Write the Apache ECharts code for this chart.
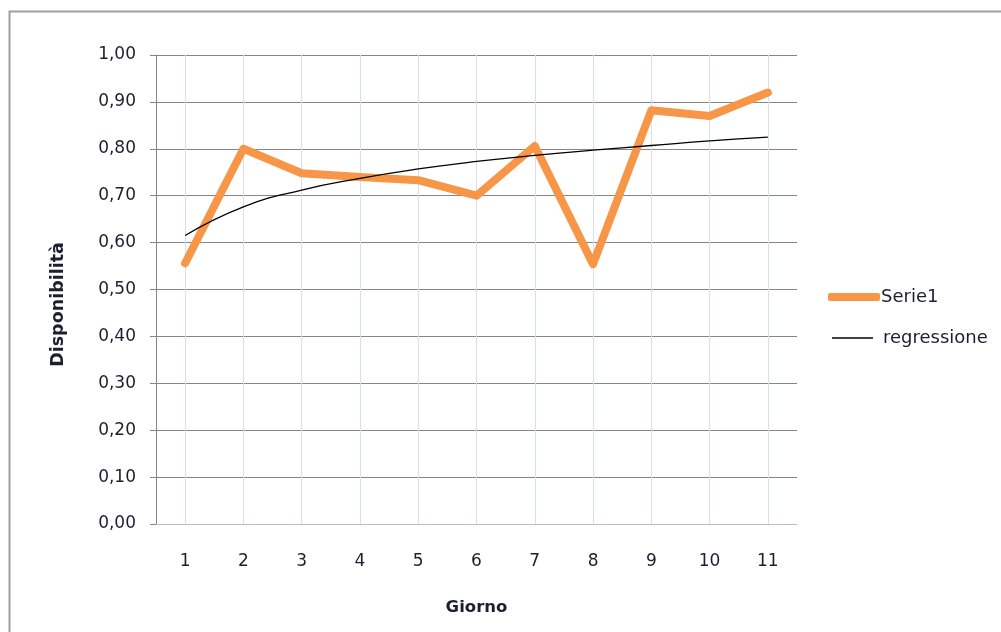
<!DOCTYPE html>
<html><head><meta charset="utf-8">
<script src="https://cdn.jsdelivr.net/npm/echarts@6/dist/echarts.min.js"></script>
<style>html,body{margin:0;padding:0;background:#fff}#c{width:1001px;height:632px}</style>
</head><body><div id="c"></div>
<script>
const categories = ['1','2','3','4','5','6','7','8','9','10','11'];
const serie1 = [0.556, 0.800, 0.748, 0.740, 0.733, 0.700, 0.806, 0.554, 0.882, 0.870, 0.920];
const regressione = [0.615, 0.676, 0.712, 0.737, 0.757, 0.773, 0.786, 0.797, 0.807, 0.817, 0.825];
const yTicks = [0, 0.1, 0.2, 0.3, 0.4, 0.5, 0.6, 0.7, 0.8, 0.9, 1.0];

const FONT = '"DejaVu Sans", sans-serif';
const TXT = '#1e1e30';
const chart = echarts.init(document.getElementById('c'), null, {renderer:'canvas'});
chart.setOption({
  backgroundColor: '#fff',
  animation: false,
  graphic: [{type:'rect', shape:{x:9.5, y:11.5, width:1100, height:700}, style:{fill:'none', stroke:'#a0a0a0', lineWidth:2}, silent:true, z:-10}],
  grid: {left:156, right:204, top:55, bottom:108, containLabel:false},
  legend: [
    {data:[{name:'Serie1', icon:'roundRect'}], left:823, top:283, orient:'vertical', itemWidth:52, itemHeight:8,
     textStyle:{fontFamily:FONT, fontSize:18, color:TXT, padding:[0,0,0,-4]}},
    {data:[{name:'regressione', icon:'rect'}], left:827, top:324, orient:'vertical', itemWidth:41, itemHeight:1.5,
     textStyle:{fontFamily:FONT, fontSize:18, color:TXT, padding:[0,0,0,5]}}
  ],
  xAxis: {
    type:'category', data:categories, boundaryGap:true,
    name:'Giorno', nameLocation:'middle', nameGap:75,
    nameTextStyle:{fontFamily:FONT, fontSize:16.5, fontWeight:'bold', color:TXT},
    axisLine:{show:true, lineStyle:{color:'#bdbdbd', width:1}},
    axisTick:{show:false},
    axisLabel:{fontFamily:FONT, fontSize:17, color:TXT, margin:29},
    splitLine:{show:true, alignWithLabel:true, lineStyle:{color:'#d6e0f2', width:1}}
  },
  yAxis: {
    type:'value', min:0, max:1, interval:0.1,
    name:'Disponibilità', nameLocation:'middle', nameGap:89, nameRotate:90,
    nameTextStyle:{fontFamily:FONT, fontSize:17.5, fontWeight:'bold', color:TXT, padding:[0,30,0,0]},
    axisLine:{show:true, lineStyle:{color:'#868686', width:1}},
    axisTick:{show:true, length:6, inside:false, lineStyle:{color:'#868686'}},
    axisLabel:{fontFamily:FONT, fontSize:17, color:TXT, margin:20,
      formatter: v => { const t = yTicks.find(x => Math.abs(x - v) < 1e-9); return (t === undefined ? v : t).toFixed(2).replace('.', ','); }},
    splitLine:{show:true, lineStyle:{color:'#868686', width:1}}
  },
  series: [
    {name:'Serie1', type:'line', data:serie1, symbol:'none', z:3,
     lineStyle:{color:'#F79646', width:8, cap:'round', join:'round'}, itemStyle:{color:'#F79646'}},
    {name:'regressione', type:'line', data:regressione, symbol:'none', smooth:true, z:4,
     lineStyle:{color:'#000', width:1.3}, itemStyle:{color:'#000'}}
  ]
});
</script></body></html>
